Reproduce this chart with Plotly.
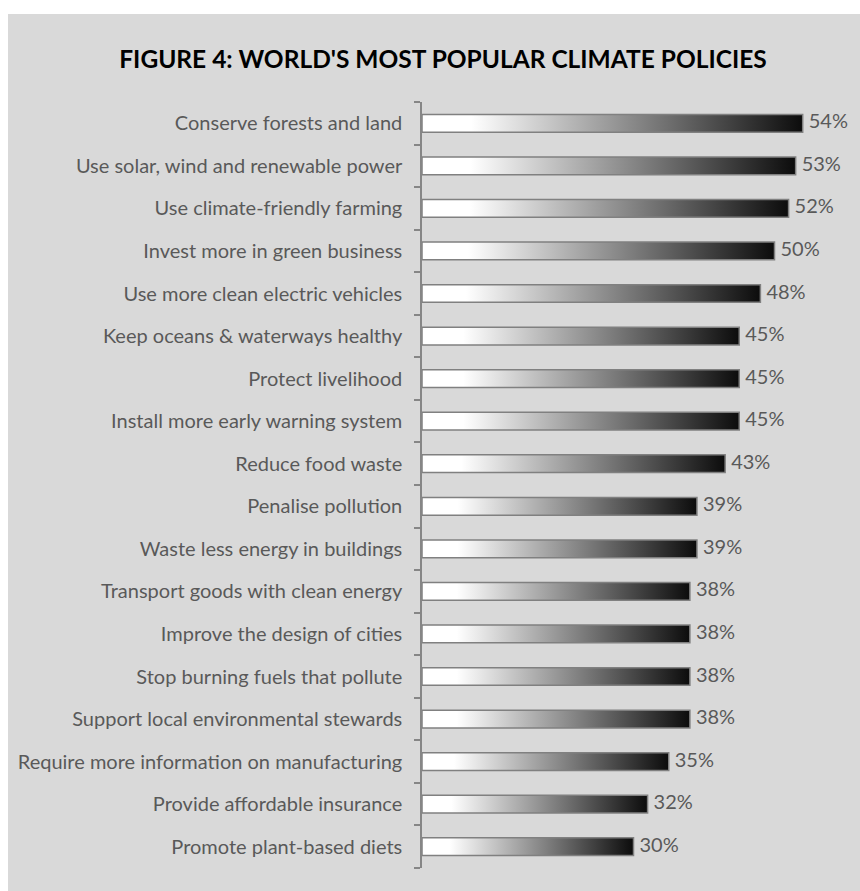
import plotly.graph_objects as go

categories = [
    "Conserve forests and land",
    "Use solar, wind and renewable power",
    "Use climate-friendly farming",
    "Invest more in green business",
    "Use more clean electric vehicles",
    "Keep oceans & waterways healthy",
    "Protect livelihood",
    "Install more early warning system",
    "Reduce food waste",
    "Penalise pollution",
    "Waste less energy in buildings",
    "Transport goods with clean energy",
    "Improve the design of cities",
    "Stop burning fuels that pollute",
    "Support local environmental stewards",
    "Require more information on manufacturing",
    "Provide affordable insurance",
    "Promote plant-based diets",
]
values = [54, 53, 52, 50, 48, 45, 45, 45, 43, 39, 39, 38, 38, 38, 38, 35, 32, 30]
value_labels = [f"{v}%" for v in values]
title_text = "FIGURE 4: WORLD'S MOST POPULAR CLIMATE POLICIES"

W, H = 860, 891
ML, MR, MT, MB = 422, 15, 102, 23
n = len(categories)
half = 0.208
grad = [[0, "#ffffff"], [0.13, "#ffffff"], [1, "#0c0c0c"]]
FONT = "Lato"
TXT = "#595959"
AX = "#868686"

fig = go.Figure()
for i, (c, v) in enumerate(zip(categories, values)):
    fig.add_trace(go.Scatter(
        x=[0, v, v, 0, 0],
        y=[i - half, i - half, i + half, i + half, i - half],
        mode="lines",
        line=dict(color="#808080", width=1.5),
        fill="toself",
        fillgradient=dict(type="horizontal", start=0, stop=v, colorscale=grad),
        hoverinfo="skip", showlegend=False, name=c,
    ))

fig.add_trace(go.Scatter(
    x=values, y=list(range(n)), mode="markers+text", text=value_labels,
    textposition="middle right",
    marker=dict(size=8, color="rgba(0,0,0,0)"),
    textfont=dict(family=FONT, size=20, color=TXT),
    cliponaxis=False, showlegend=False, hoverinfo="skip",
))

pw = W - ML - MR
ph = H - MT - MB
fig.add_shape(type="rect", xref="paper", yref="paper",
              x0=(8 - ML) / pw, x1=(W - ML) / pw + 0.1,
              y0=-0.1, y1=(H - MB - 14) / ph,
              fillcolor="#d9d9d9", line=dict(width=0), layer="below")

fig.update_layout(
    width=W, height=H,
    margin=dict(l=ML, r=MR, t=MT, b=MB),
    paper_bgcolor="#ffffff",
    plot_bgcolor="rgba(0,0,0,0)",
    title=dict(text=title_text, x=443 / W, xref="container", xanchor="center",
               y=1 - 59 / H, yref="container", yanchor="middle",
               font=dict(family=FONT, size=24.5, color="#000000", weight="bold")),
    xaxis=dict(range=[0, 60], visible=False, showgrid=False, zeroline=False),
    yaxis=dict(
        range=[n - 0.5, -0.5], tickmode="array", tickvals=list(range(n)),
        ticktext=categories, ticks="", showgrid=False, zeroline=False,
        showline=True, linecolor=AX, linewidth=1.5,
        tickfont=dict(family=FONT, size=20, color=TXT),
        ticklabelstandoff=14,
        minor=dict(tickmode="array", tickvals=[i - 0.5 for i in range(n + 1)],
                   ticks="outside", ticklen=6, tickcolor=AX, tickwidth=1.5,
                   showgrid=False),
    ),
    showlegend=False,
)

fig.write_html("out.html")
